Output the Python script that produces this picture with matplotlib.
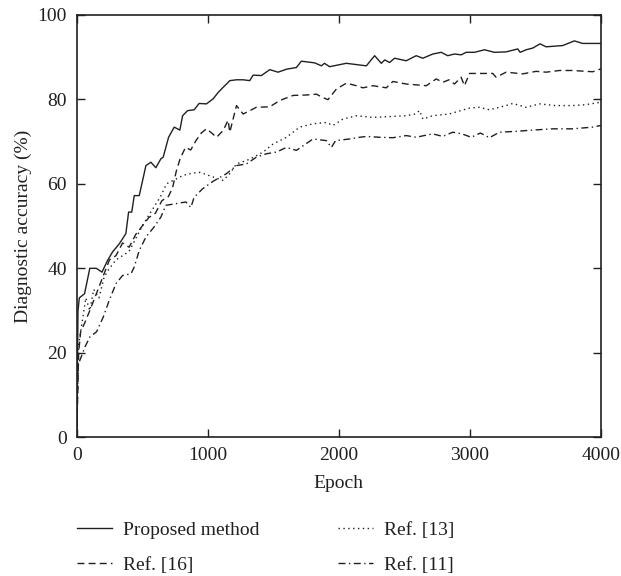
import matplotlib
matplotlib.use("Agg")
import matplotlib.pyplot as plt

plt.rcParams['font.family'] = ['Liberation Serif', 'DejaVu Serif']

# Proposed method
ep_prop = [0, 10, 20, 60, 100, 150, 193, 236, 274, 325, 375, 396, 420, 439, 477, 503, 528, 566,
           604, 642, 660, 701, 744, 787, 808, 846, 896, 934, 990, 1041, 1079, 1117, 1168, 1219,
           1270, 1320, 1346, 1409, 1473, 1536, 1600, 1676, 1714, 1816, 1867, 1890, 1930, 2057,
           2133, 2210, 2273, 2324, 2350, 2387, 2425, 2514, 2590, 2641, 2717, 2781, 2831, 2882,
           2933, 2971, 3035, 3111, 3187, 3276, 3365, 3383, 3429, 3479, 3535, 3581, 3708, 3797,
           3860, 4000]
acc_prop = [0, 30, 33, 34, 40, 40, 39.1, 41.9, 43.9, 45.8, 48.2, 53.3, 53.3, 57.2, 57.2, 60.8,
            64.3, 65.1, 63.8, 65.9, 66.3, 71, 73.4, 72.7, 76.1, 77.3, 77.5, 79, 78.9, 80.1, 81.6,
            82.8, 84.4, 84.6, 84.6, 84.4, 85.7, 85.6, 87, 86.4, 87.1, 87.5, 89, 88.6, 87.9, 88.5,
            87.7, 88.5, 88.2, 87.9, 90.3, 88.5, 89.3, 88.7, 89.7, 89.1, 90.3, 89.7, 90.7, 91.1,
            90.3, 90.7, 90.5, 91.1, 91.1, 91.7, 91.1, 91.2, 91.9, 91.1, 91.7, 92.1, 93.1, 92.4,
            92.7, 93.8, 93.2, 93.2]

# Ref. [16]
ep_r16 = [0, 15, 30, 60, 100, 150, 200, 250, 300, 350, 400, 450, 500, 550, 600, 650, 700, 731,
          760, 790, 830, 870, 910, 950, 990, 1030, 1067, 1117, 1155, 1168, 1219, 1270, 1371,
          1473, 1549, 1651, 1752, 1829, 1870, 1917, 1981, 2057, 2133, 2184, 2260, 2362, 2412,
          2514, 2667, 2743, 2793, 2840, 2882, 2933, 2958, 2997, 3174, 3200, 3276, 3403, 3505,
          3581, 3683, 3784, 3886, 3937, 4000]
acc_r16 = [0, 20, 25, 27, 30, 34, 38, 42, 43, 46, 45, 48, 50, 52, 53, 56, 57, 59, 63, 66, 68.6,
           68, 70.2, 72, 73, 72, 71, 72.6, 75, 72.2, 78.5, 76.5, 78.1, 78.2, 79.7, 80.9, 81,
           81.2, 80.5, 79.9, 82.4, 83.8, 83.2, 82.7, 83.2, 82.7, 84.2, 83.6, 83.2, 84.8, 84,
           84.6, 83.6, 85.2, 83.2, 86.1, 86.1, 85.2, 86.4, 86, 86.6, 86.4, 86.8, 86.8, 86.6,
           86.5, 87.2]

# Ref. [13]
ep_r13 = [0, 15, 40, 70, 100, 130, 170, 210, 250, 300, 350, 400, 450, 500, 559, 600, 640, 686,
          750, 813, 880, 940, 1041, 1117, 1168, 1219, 1295, 1350, 1422, 1498, 1600, 1701, 1803,
          1905, 1955, 2031, 2133, 2260, 2387, 2514, 2580, 2616, 2641, 2717, 2840, 2997, 3070,
          3149, 3276, 3327, 3429, 3530, 3650, 3784, 3880, 4000]
acc_r13 = [0, 22, 27, 33, 30, 35, 33, 38, 40, 42, 43, 44, 47, 50, 53, 55, 57, 60, 61, 62, 62.5,
           62.7, 61.6, 60.8, 62.4, 64.7, 65.5, 66.3, 67.5, 69.4, 71, 73.4, 74.2, 74.5, 73.8,
           75.3, 76.1, 75.7, 75.9, 76.1, 76.5, 77.3, 75.3, 76.1, 76.5, 77.9, 78.1, 77.5, 78.5,
           79, 78.1, 78.9, 78.5, 78.5, 78.7, 79.3]

# Ref. [11]
ep_r11 = [0, 10, 25, 63, 101, 152, 203, 248, 300, 350, 414, 439, 477, 528, 591, 642, 680, 757,
          833, 871, 896, 960, 1041, 1143, 1219, 1295, 1371, 1448, 1524, 1600, 1676, 1803, 1905,
          1943, 1975, 2082, 2159, 2210, 2311, 2412, 2514, 2590, 2650, 2717, 2793, 2869, 2940,
          3010, 3080, 3149, 3225, 3352, 3479, 3631, 3784, 3936, 4000]
acc_r11 = [0, 17, 18.3, 21.4, 23.8, 25, 28.5, 32.4, 36.4, 38.3, 38.7, 40.3, 44.2, 47.4, 49.8,
           52.1, 54.9, 55.3, 55.7, 54.4, 56.8, 58.8, 60.6, 62.4, 64.3, 64.7, 66.3, 67.1, 67.5,
           68.6, 67.9, 70.6, 70.2, 68.6, 70.2, 70.6, 71, 71.2, 71, 70.9, 71.4, 71, 71.4, 71.8,
           71.2, 72.2, 71.8, 71, 72, 70.9, 72.2, 72.4, 72.7, 73, 73, 73.4, 73.8]

x_ticks = [0, 1000, 2000, 3000, 4000]
y_ticks = [0, 20, 40, 60, 80, 100]

ink = '#231f20'
fs = 14

fig = plt.figure(figsize=(6.21, 5.76), dpi=100)
ax = fig.add_axes([0.1235, 0.2406, 0.8443, 0.7339])

l1, = ax.plot(ep_prop, acc_prop, color=ink, lw=1.0, linestyle='-', label='Proposed method')
l2, = ax.plot(ep_r16, acc_r16, color=ink, lw=1.0, linestyle=(0, (5, 3)), label='Ref. [16]')
l3, = ax.plot(ep_r13, acc_r13, color=ink, lw=1.0, linestyle=(0, (1, 2.5)), label='Ref. [13]')
l4, = ax.plot(ep_r11, acc_r11, color=ink, lw=1.0, linestyle=(0, (5, 2.5, 1, 2.5)), label='Ref. [11]')

ax.set_xlim(0, 4000)
ax.set_ylim(0, 100)
ax.set_xticks(x_ticks)
ax.set_yticks(y_ticks)
ax.tick_params(direction='in', length=6, width=1, colors=ink, labelsize=fs,
               top=True, right=True, pad=7)
for s in ax.spines.values():
    s.set_linewidth(1.2)
    s.set_color(ink)

ax.set_xlabel('Epoch', fontsize=fs, color=ink, labelpad=8)
ax.set_ylabel('Diagnostic accuracy (%)', fontsize=fs, color=ink, labelpad=4)

# two legend columns placed separately
leg_kw = dict(frameon=False, fontsize=fs, handlelength=1.8, handletextpad=0.55,
              labelspacing=0.9, borderpad=0, borderaxespad=0, labelcolor=ink)
leg1 = fig.legend(handles=[l1, l2], loc='upper left',
                  bbox_to_anchor=(77 / 621, 1 - 521 / 576), **leg_kw)
leg2 = fig.legend(handles=[l3, l4], loc='upper left',
                  bbox_to_anchor=(338 / 621, 1 - 521 / 576), **leg_kw)

fig.savefig('out.png', dpi=100)
